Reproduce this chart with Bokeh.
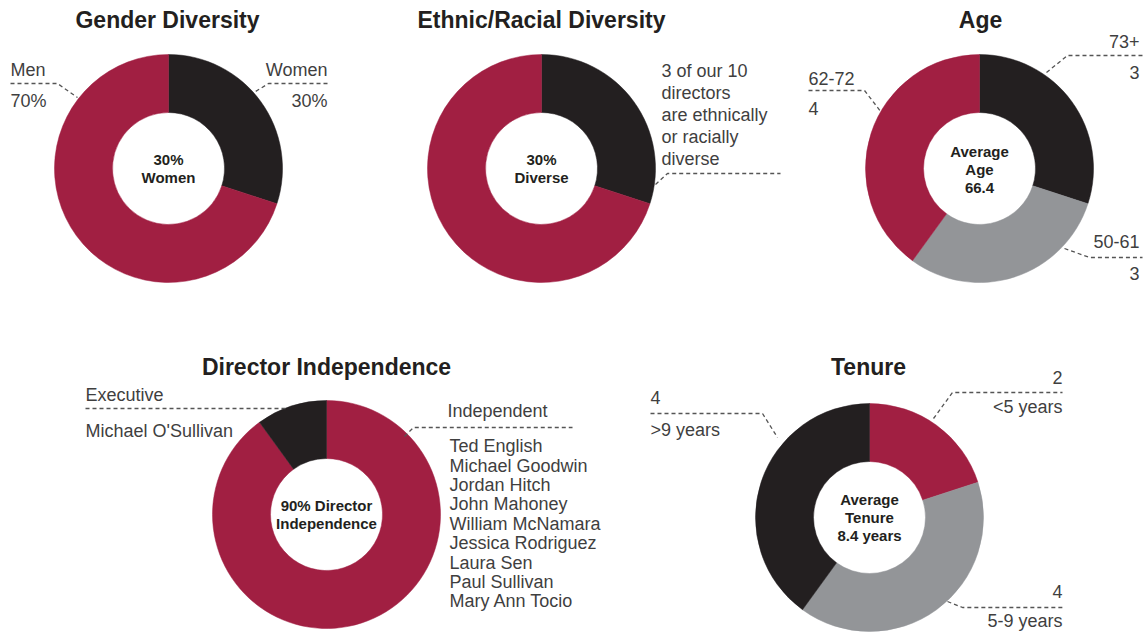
import math
from bokeh.plotting import figure
from bokeh.models import Range1d, ColumnDataSource
from bokeh.core.properties import value
from bokeh.embed import file_html
from bokeh.resources import INLINE

# ---------------- data ----------------
gender_labels = ["Women", "Men"]
gender_values = [30, 70]
ethnic_labels = ["Diverse", "Not diverse"]
ethnic_values = [30, 70]
age_labels = ["73+", "50-61", "62-72"]
age_values = [3, 3, 4]
indep_labels = ["Independent", "Executive"]
indep_values = [9, 1]
tenure_labels = ["<5 years", "5-9 years", ">9 years"]
tenure_values = [2, 4, 4]
independent_directors = ["Ted English", "Michael Goodwin", "Jordan Hitch", "John Mahoney",
                         "William McNamara", "Jessica Rodriguez", "Laura Sen", "Paul Sullivan",
                         "Mary Ann Tocio"]
executive_directors = ["Michael O'Sullivan"]
ethnic_diverse_count = 3
board_size = 10
average_age = 66.4
average_tenure = 8.4

# ---------------- style ----------------
CRIMSON = "#A11F42"
BLACK = "#231F20"
GRAY = "#939598"
TITLE_C = "#231F20"
LABEL_C = "#3F3F3F"
LEAD_C = "#555555"
FONT = "Liberation Sans"
R_OUT = 114
R_IN = 56

W, H = 1144, 632
p = figure(width=W, height=H, x_range=Range1d(0, W), y_range=Range1d(0, H),
           output_backend="svg", toolbar_location=None, x_axis_type=None, y_axis_type=None,
           min_border=0, outline_line_color=None, background_fill_color="white")
p.grid.visible = False


def Y(py):
    return H - py


def donut(cx, cy, labels, vals, colors):
    total = float(sum(vals))
    starts, ends, c = [], [], 0.0
    for v in vals:
        starts.append(math.pi / 2 - 2 * math.pi * c / total)
        c += v
        ends.append(math.pi / 2 - 2 * math.pi * c / total)
    src = ColumnDataSource(dict(x=[cx] * len(vals), y=[Y(cy)] * len(vals), start=starts,
                                end=ends, color=colors, label=labels, value=vals))
    p.annular_wedge(x="x", y="y", inner_radius=R_IN, outer_radius=R_OUT, start_angle="start",
                    end_angle="end", direction="clock", fill_color="color", line_color="color",
                    line_width=0.5, source=src)


def txt(x, y, s, size=18, bold=False, align="left", color=LABEL_C):
    # y is the text's baseline in page pixels; draw with a middle baseline
    p.text(x=[x], y=[Y(y - 0.35 * size)], text=[s], text_font=value(FONT),
           text_font_size=f"{size}px", text_font_style="bold" if bold else "normal",
           text_align=align, text_baseline="middle", text_color=color)


def title(x, y, s):
    txt(x, y, s, size=23, bold=True, align="center", color=TITLE_C)


def center_lines(cx, cy, lines, step=18):
    n = len(lines)
    for i, s in enumerate(lines):
        yc = cy + (i - (n - 1) / 2) * step
        p.text(x=[cx], y=[Y(yc)], text=[s], text_font=value(FONT), text_font_size="15px",
               text_font_style="bold", text_align="center", text_baseline="middle",
               text_color=TITLE_C)


def leader(pts):
    p.line(x=[a for a, b in pts], y=[Y(b) for a, b in pts], line_color=LEAD_C,
           line_width=1.3, line_dash="4 3")


# ---------------- Gender Diversity ----------------
title(167, 28, "Gender Diversity")
donut(168, 168, gender_labels, gender_values, [BLACK, CRIMSON])
center_lines(168, 168, [f"{gender_values[0]}%", gender_labels[0]])
txt(10, 76, gender_labels[1])
txt(10, 107, f"{gender_values[1]}%")
leader([(10, 83), (57, 83), (77, 97)])
txt(327, 76, gender_labels[0], align="right")
txt(327, 107, f"{gender_values[0]}%", align="right")
leader([(327, 83), (268, 83), (255, 91)])

# ---------------- Ethnic/Racial Diversity ----------------
title(541, 28, "Ethnic/Racial Diversity")
donut(541, 168, ethnic_labels, ethnic_values, [BLACK, CRIMSON])
center_lines(541, 168, [f"{ethnic_values[0]}%", ethnic_labels[0]])
eth_lines = [f"{ethnic_diverse_count} of our {board_size}", "directors", "are ethnically",
             "or racially", "diverse"]
for i, s in enumerate(eth_lines):
    txt(661, 77 + 22 * i, s)
leader([(655, 184), (667, 173), (780, 173)])

# ---------------- Age ----------------
title(980, 28, "Age")
donut(979, 168, age_labels, age_values, [BLACK, GRAY, CRIMSON])
center_lines(979, 169, ["Average", "Age", f"{average_age}"])
txt(1139, 47, age_labels[0], align="right")
txt(1139, 78, str(age_values[0]), align="right")
leader([(1046, 72), (1067, 55), (1142, 55)])
txt(808, 84, age_labels[2])
txt(808, 114, str(age_values[2]))
leader([(808, 90), (864, 90), (881, 112)])
txt(1139, 247, age_labels[1], align="right")
txt(1139, 279, str(age_values[1]), align="right")
leader([(1064, 248), (1089, 257), (1142, 257)])

# ---------------- Director Independence ----------------
title(326, 375, "Director Independence")
donut(326, 514, indep_labels, indep_values, [CRIMSON, BLACK])
center_lines(326, 514, [f"{round(100 * indep_values[0] / sum(indep_values))}% Director",
                        "Independence"])
txt(85, 401, indep_labels[1])
leader([(85, 408), (285, 408)])
for i, s in enumerate(executive_directors):
    txt(85, 437 + 19.4 * i, s)
txt(447, 417, indep_labels[0])
leader([(404, 436), (413, 427), (572, 427)])
for i, s in enumerate(independent_directors):
    txt(449, 452 + 19.4 * i, s)

# ---------------- Tenure ----------------
title(868, 375, "Tenure")
donut(869, 517, tenure_labels, tenure_values, [CRIMSON, GRAY, BLACK])
center_lines(869, 517, ["Average", "Tenure", f"{average_tenure} years"])
txt(1062, 383, str(tenure_values[0]), align="right")
txt(1062, 413, tenure_labels[0], align="right")
leader([(933, 418), (952, 392), (1062, 392)])
txt(650, 403, str(tenure_values[2]))
txt(650, 436, tenure_labels[2])
leader([(650, 413), (762, 413), (777, 437)])
txt(1062, 597, str(tenure_values[1]), align="right")
txt(1062, 627, tenure_labels[1], align="right")
leader([(947, 601), (962, 607), (1062, 607)])

open("out.html", "w").write(file_html(p, INLINE))
